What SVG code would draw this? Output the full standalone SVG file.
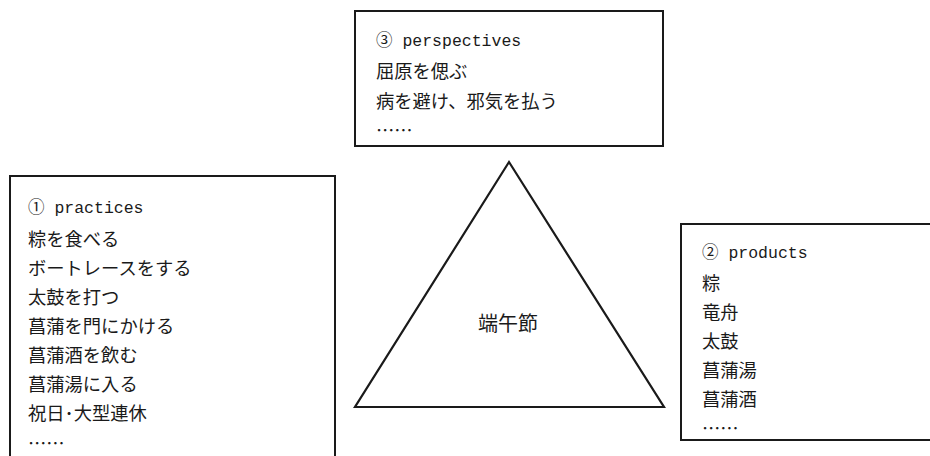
<svg xmlns="http://www.w3.org/2000/svg" width="930" height="456" viewBox="0 0 930 456">
<style>
.box{fill:#fff;stroke:#1a1a1a;stroke-width:2}
.t{font-family:"Noto Sans CJK JP","Noto Sans CJK SC",sans-serif;font-size:18.3px;fill:#1a1a1a}
.h{font-family:"Liberation Mono","Noto Sans CJK JP",monospace;font-size:16.5px;fill:#1a1a1a}
.c{font-family:"Noto Sans CJK JP",sans-serif;font-size:20px;fill:#1a1a1a;text-anchor:middle}
</style>
<rect width="930" height="456" fill="#fff"/>
<g id="connectors">
<polygon points="509,162 355,407 664,407" fill="none" stroke="#1a1a1a" stroke-width="2.2" stroke-linejoin="miter"/>
</g>
<g id="center">
<text class="c" x="508" y="331">端午節</text>
</g>
<g id="perspectives">
<rect class="box" x="355" y="11" width="308" height="135"/>
<text class="h" x="376" y="46">③ perspectives</text>
<text class="t" x="376" y="78">屈原を偲ぶ</text>
<text class="t" x="376" y="108">病を避け、邪気を払う</text>
<text class="t" x="376" y="137">……</text>
</g>
<g id="practices">
<rect class="box" x="10" y="176" width="325" height="290"/>
<text class="h" x="28" y="213">① practices</text>
<text class="t" x="28" y="246">粽を食べる</text>
<text class="t" x="28" y="275">ボートレースをする</text>
<text class="t" x="28" y="304">太鼓を打つ</text>
<text class="t" x="28" y="333">菖蒲を門にかける</text>
<text class="t" x="28" y="362">菖蒲酒を飲む</text>
<text class="t" x="28" y="391">菖蒲湯に入る</text>
<text class="t" x="28" y="420">祝日･大型連休</text>
<text class="t" x="28" y="450">……</text>
</g>
<g id="products">
<rect class="box" x="681" y="224" width="250" height="216"/>
<text class="h" x="702" y="258">② products</text>
<text class="t" x="702" y="290">粽</text>
<text class="t" x="702" y="319">竜舟</text>
<text class="t" x="702" y="348">太鼓</text>
<text class="t" x="702" y="377">菖蒲湯</text>
<text class="t" x="702" y="406">菖蒲酒</text>
<text class="t" x="702" y="435">……</text>
</g>
</svg>
